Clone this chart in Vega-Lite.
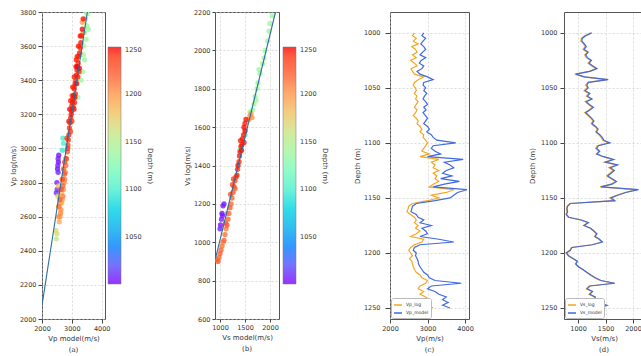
{
"$schema": "https://vega.github.io/schema/vega-lite/v6.json",
"padding": {"left": 8, "top": 8, "right": 0, "bottom": 0},
"background": "white",
"bounds": "flush",
"spacing": 0,
"config": {
  "font": "DejaVu Sans",
  "numberFormat": "d",
  "view": {"stroke": "#555", "strokeWidth": 1},
  "axis": {"labelFont": "DejaVu Sans", "titleFont": "DejaVu Sans", "labelFontSize": 6.5, "titleFontSize": 7, "titleFontWeight": "normal", "labelColor": "#333", "titleColor": "#333", "tickColor": "#444", "tickSize": 4, "labelPadding": 2, "titlePadding": 3, "domain": false, "grid": true, "gridColor": "#c4c4c4", "gridDash": [2, 2], "gridWidth": 0.6, "labelOverlap": false, "labelFlush": false, "format": "d"},
  "legend": {"labelFont": "DejaVu Sans", "titleFont": "DejaVu Sans"},
  "title": {"font": "DejaVu Serif", "fontSize": 7, "fontWeight": "normal", "color": "#333", "orient": "bottom", "offset": 4}
},
"datasets": {
  "scatA": [
    {"vp_model":2560,"vp_log":2960,"depth":1002},{"vp_model":2540,"vp_log":2940,"depth":1003},{"vp_model":2550,"vp_log":2920,"depth":1001},{"vp_model":2530,"vp_log":2900,"depth":1004},{"vp_model":2520,"vp_log":2880,"depth":1002},{"vp_model":2540,"vp_log":2860,"depth":1005},{"vp_model":2500,"vp_log":2800,"depth":1003},{"vp_model":2510,"vp_log":2760,"depth":1008},{"vp_model":2480,"vp_log":2740,"depth":1006},
    {"vp_model":2700,"vp_log":3060,"depth":1095},{"vp_model":2720,"vp_log":3030,"depth":1100},{"vp_model":2680,"vp_log":2990,"depth":1092},
    {"vp_model":3480,"vp_log":3800,"depth":1140},{"vp_model":3520,"vp_log":3790,"depth":1138},{"vp_model":3460,"vp_log":3760,"depth":1142},{"vp_model":3550,"vp_log":3700,"depth":1135},{"vp_model":3500,"vp_log":3720,"depth":1140},{"vp_model":3430,"vp_log":3680,"depth":1137},{"vp_model":3480,"vp_log":3640,"depth":1141},{"vp_model":3400,"vp_log":3600,"depth":1139},{"vp_model":3380,"vp_log":3550,"depth":1143},{"vp_model":3420,"vp_log":3520,"depth":1136},{"vp_model":3350,"vp_log":3450,"depth":1140},{"vp_model":3300,"vp_log":3400,"depth":1138},{"vp_model":3200,"vp_log":3300,"depth":1134},
    {"vp_model":2480,"vp_log":2470,"depth":1160},{"vp_model":2500,"vp_log":2500,"depth":1165},{"vp_model":2460,"vp_log":2520,"depth":1170},{"vp_model":2530,"vp_log":2720,"depth":1175},{"vp_model":2550,"vp_log":2780,"depth":1180},
    {"vp_model":2850,"vp_log":2980,"depth":1225},{"vp_model":2820,"vp_log":2940,"depth":1220},{"vp_model":2800,"vp_log":2900,"depth":1215},{"vp_model":2780,"vp_log":2860,"depth":1212},{"vp_model":2760,"vp_log":2820,"depth":1208},{"vp_model":2740,"vp_log":2800,"depth":1205},{"vp_model":2720,"vp_log":2760,"depth":1200},{"vp_model":2700,"vp_log":2720,"depth":1210},{"vp_model":2680,"vp_log":2700,"depth":1195},{"vp_model":2660,"vp_log":2680,"depth":1190},{"vp_model":2640,"vp_log":2640,"depth":1198},{"vp_model":2620,"vp_log":2620,"depth":1205},{"vp_model":2600,"vp_log":2600,"depth":1200},{"vp_model":2580,"vp_log":2570,"depth":1192},{"vp_model":2560,"vp_log":2600,"depth":1202},{"vp_model":2700,"vp_log":2780,"depth":1218},{"vp_model":2650,"vp_log":2740,"depth":1185},{"vp_model":2620,"vp_log":2680,"depth":1195},{"vp_model":2600,"vp_log":2650,"depth":1188},{"vp_model":2750,"vp_log":2850,"depth":1228},{"vp_model":2800,"vp_log":2940,"depth":1232},{"vp_model":3350,"vp_log":3740,"depth":1195},{"vp_model":3380,"vp_log":3680,"depth":1200},
    {"vp_model":2560,"vp_log":2660,"depth":1212},{"vp_model":2600,"vp_log":2700,"depth":1222},{"vp_model":2640,"vp_log":2760,"depth":1226},{"vp_model":2680,"vp_log":2820,"depth":1230},{"vp_model":2720,"vp_log":2880,"depth":1224},{"vp_model":2760,"vp_log":2920,"depth":1233},
    {"vp_model":3380,"vp_log":3760,"depth":1248},{"vp_model":3350,"vp_log":3700,"depth":1249},{"vp_model":3320,"vp_log":3660,"depth":1247},{"vp_model":3300,"vp_log":3620,"depth":1246},{"vp_model":3280,"vp_log":3590,"depth":1245},{"vp_model":3260,"vp_log":3560,"depth":1248},{"vp_model":3230,"vp_log":3540,"depth":1244},{"vp_model":3210,"vp_log":3500,"depth":1243},{"vp_model":3190,"vp_log":3480,"depth":1249},{"vp_model":3170,"vp_log":3460,"depth":1245},{"vp_model":3150,"vp_log":3430,"depth":1247},{"vp_model":3200,"vp_log":3420,"depth":1246},{"vp_model":3130,"vp_log":3400,"depth":1242},{"vp_model":3110,"vp_log":3380,"depth":1248},{"vp_model":3080,"vp_log":3350,"depth":1244},{"vp_model":3120,"vp_log":3320,"depth":1241},{"vp_model":3060,"vp_log":3310,"depth":1249},{"vp_model":3040,"vp_log":3290,"depth":1245},{"vp_model":3020,"vp_log":3270,"depth":1247},{"vp_model":3000,"vp_log":3250,"depth":1243},{"vp_model":3050,"vp_log":3240,"depth":1240},{"vp_model":2990,"vp_log":3220,"depth":1246},{"vp_model":2980,"vp_log":3200,"depth":1248},{"vp_model":2960,"vp_log":3180,"depth":1242},{"vp_model":3000,"vp_log":3160,"depth":1238},{"vp_model":2940,"vp_log":3150,"depth":1245},{"vp_model":2920,"vp_log":3120,"depth":1240},{"vp_model":2950,"vp_log":3100,"depth":1236},{"vp_model":2900,"vp_log":3080,"depth":1243},{"vp_model":2880,"vp_log":3050,"depth":1239},{"vp_model":2870,"vp_log":3020,"depth":1235},{"vp_model":2860,"vp_log":3000,"depth":1241},{"vp_model":3250,"vp_log":3470,"depth":1250},{"vp_model":3150,"vp_log":3520,"depth":1247},{"vp_model":3100,"vp_log":3300,"depth":1249},{"vp_model":3080,"vp_log":3420,"depth":1246},
    {"vp_model":3070,"vp_log":3230,"depth":1247},{"vp_model":3090,"vp_log":3270,"depth":1244},{"vp_model":2930,"vp_log":3230,"depth":1249},{"vp_model":2960,"vp_log":3280,"depth":1246},{"vp_model":3030,"vp_log":3360,"depth":1248},{"vp_model":3010,"vp_log":3310,"depth":1242},{"vp_model":3140,"vp_log":3480,"depth":1250},{"vp_model":3180,"vp_log":3540,"depth":1245},{"vp_model":3220,"vp_log":3600,"depth":1248},{"vp_model":3240,"vp_log":3450,"depth":1243},{"vp_model":2900,"vp_log":3160,"depth":1247},{"vp_model":2840,"vp_log":3060,"depth":1240},{"vp_model":3160,"vp_log":3380,"depth":1249},{"vp_model":3280,"vp_log":3660,"depth":1246}
  ],
  "lineA": [{"vp_model":2000,"vp_log":2080},{"vp_model":3520,"vp_log":3800}],
  "scatB": [
    {"vs_model":1080,"vs_log":1200,"depth":1002},{"vs_model":1060,"vs_log":1190,"depth":1003},{"vs_model":1040,"vs_log":1150,"depth":1001},{"vs_model":1030,"vs_log":1120,"depth":1004},{"vs_model":1010,"vs_log":1090,"depth":1002},{"vs_model":1000,"vs_log":1070,"depth":1005},{"vs_model":1050,"vs_log":1140,"depth":1003},
    {"vs_model":1500,"vs_log":1560,"depth":1100},{"vs_model":1400,"vs_log":1480,"depth":1095},
    {"vs_model":2050,"vs_log":2180,"depth":1140},{"vs_model":2000,"vs_log":2140,"depth":1138},{"vs_model":1980,"vs_log":2100,"depth":1142},{"vs_model":1950,"vs_log":2050,"depth":1141},{"vs_model":1900,"vs_log":2000,"depth":1139},{"vs_model":1880,"vs_log":1960,"depth":1137},{"vs_model":1850,"vs_log":1930,"depth":1143},{"vs_model":1800,"vs_log":1880,"depth":1140},{"vs_model":1760,"vs_log":1830,"depth":1136},{"vs_model":1740,"vs_log":1800,"depth":1141},{"vs_model":1700,"vs_log":1760,"depth":1138},{"vs_model":1680,"vs_log":1720,"depth":1140},{"vs_model":1650,"vs_log":1690,"depth":1135},{"vs_model":1600,"vs_log":1680,"depth":1144},{"vs_model":1780,"vs_log":1900,"depth":1139},{"vs_model":1720,"vs_log":1740,"depth":1142},
    {"vs_model":1600,"vs_log":1660,"depth":1200},{"vs_model":1620,"vs_log":1670,"depth":1198},{"vs_model":1640,"vs_log":1650,"depth":1202},{"vs_model":1580,"vs_log":1640,"depth":1195},
    {"vs_model":1300,"vs_log":1320,"depth":1230},{"vs_model":1280,"vs_log":1290,"depth":1226},{"vs_model":1260,"vs_log":1260,"depth":1222},{"vs_model":1240,"vs_log":1230,"depth":1218},{"vs_model":1220,"vs_log":1200,"depth":1215},{"vs_model":1200,"vs_log":1180,"depth":1222},{"vs_model":1180,"vs_log":1150,"depth":1212},{"vs_model":1160,"vs_log":1120,"depth":1218},{"vs_model":1140,"vs_log":1090,"depth":1225},{"vs_model":1120,"vs_log":1070,"depth":1210},{"vs_model":1100,"vs_log":1040,"depth":1215},{"vs_model":1080,"vs_log":1010,"depth":1220},{"vs_model":1060,"vs_log":1000,"depth":1208},{"vs_model":1040,"vs_log":980,"depth":1212},{"vs_model":1020,"vs_log":960,"depth":1218},{"vs_model":1000,"vs_log":940,"depth":1222},{"vs_model":980,"vs_log":920,"depth":1215},{"vs_model":960,"vs_log":900,"depth":1225},{"vs_model":940,"vs_log":910,"depth":1212},{"vs_model":1300,"vs_log":1280,"depth":1220},{"vs_model":1250,"vs_log":1300,"depth":1232},{"vs_model":1150,"vs_log":1150,"depth":1210},{"vs_model":1210,"vs_log":1250,"depth":1228},{"vs_model":1270,"vs_log":1330,"depth":1234},{"vs_model":1110,"vs_log":1100,"depth":1224},
    {"vs_model":1520,"vs_log":1640,"depth":1248},{"vs_model":1500,"vs_log":1620,"depth":1246},{"vs_model":1480,"vs_log":1600,"depth":1249},{"vs_model":1470,"vs_log":1560,"depth":1245},{"vs_model":1450,"vs_log":1540,"depth":1247},{"vs_model":1440,"vs_log":1510,"depth":1243},{"vs_model":1420,"vs_log":1500,"depth":1248},{"vs_model":1400,"vs_log":1470,"depth":1244},{"vs_model":1390,"vs_log":1450,"depth":1246},{"vs_model":1380,"vs_log":1420,"depth":1242},{"vs_model":1360,"vs_log":1400,"depth":1249},{"vs_model":1350,"vs_log":1380,"depth":1241},{"vs_model":1340,"vs_log":1350,"depth":1245},{"vs_model":1320,"vs_log":1340,"depth":1240},{"vs_model":1480,"vs_log":1520,"depth":1247},{"vs_model":1500,"vs_log":1580,"depth":1250},{"vs_model":1430,"vs_log":1480,"depth":1249},{"vs_model":1410,"vs_log":1530,"depth":1246}
  ],
  "lineB": [{"vs_model":905,"vs_log":910},{"vs_model":2110,"vs_log":2200}],
  "logs": [
    {"depth":1000,"Vp_log":2650,"Vp_model":2900,"Vs_log":1230,"Vs_model":1250},
    {"depth":1002.5,"Vp_log":2600,"Vp_model":2850,"Vs_log":1120,"Vs_model":1140},
    {"depth":1005,"Vp_log":2700,"Vp_model":2950,"Vs_log":1060,"Vs_model":1075},
    {"depth":1007.5,"Vp_log":2620,"Vp_model":2880,"Vs_log":1050,"Vs_model":1070},
    {"depth":1010,"Vp_log":2750,"Vp_model":2820,"Vs_log":1100,"Vs_model":1115},
    {"depth":1012.5,"Vp_log":2580,"Vp_model":2900,"Vs_log":1130,"Vs_model":1150},
    {"depth":1015,"Vp_log":2680,"Vp_model":2950,"Vs_log":1090,"Vs_model":1110},
    {"depth":1017.5,"Vp_log":2720,"Vp_model":2870,"Vs_log":1170,"Vs_model":1185},
    {"depth":1020,"Vp_log":2600,"Vp_model":2800,"Vs_log":1120,"Vs_model":1140},
    {"depth":1022.5,"Vp_log":2700,"Vp_model":2950,"Vs_log":1150,"Vs_model":1170},
    {"depth":1025,"Vp_log":2550,"Vp_model":2830,"Vs_log":1230,"Vs_model":1245},
    {"depth":1027.5,"Vp_log":2650,"Vp_model":2780,"Vs_log":1180,"Vs_model":1200},
    {"depth":1030,"Vp_log":2720,"Vp_model":2900,"Vs_log":1250,"Vs_model":1270},
    {"depth":1032.5,"Vp_log":2560,"Vp_model":2850,"Vs_log":1330,"Vs_model":1345},
    {"depth":1035,"Vp_log":2600,"Vp_model":2720,"Vs_log":1200,"Vs_model":1215},
    {"depth":1037.5,"Vp_log":2650,"Vp_model":2800,"Vs_log":940,"Vs_model":960},
    {"depth":1040,"Vp_log":2900,"Vp_model":3000,"Vs_log":1100,"Vs_model":1120},
    {"depth":1042.5,"Vp_log":2750,"Vp_model":3150,"Vs_log":1520,"Vs_model":1550},
    {"depth":1045,"Vp_log":2650,"Vp_model":2900,"Vs_log":1180,"Vs_model":1190},
    {"depth":1047.5,"Vp_log":2620,"Vp_model":2880,"Vs_log":1140,"Vs_model":1160},
    {"depth":1050,"Vp_log":2680,"Vp_model":2950,"Vs_log":1170,"Vs_model":1185},
    {"depth":1052.5,"Vp_log":2700,"Vp_model":2900,"Vs_log":1110,"Vs_model":1130},
    {"depth":1055,"Vp_log":2650,"Vp_model":2980,"Vs_log":1200,"Vs_model":1215},
    {"depth":1057.5,"Vp_log":2720,"Vp_model":2920,"Vs_log":1150,"Vs_model":1170},
    {"depth":1060,"Vp_log":2680,"Vp_model":2880,"Vs_log":1240,"Vs_model":1255},
    {"depth":1062.5,"Vp_log":2750,"Vp_model":2950,"Vs_log":1130,"Vs_model":1150},
    {"depth":1065,"Vp_log":2700,"Vp_model":3000,"Vs_log":1190,"Vs_model":1205},
    {"depth":1067.5,"Vp_log":2650,"Vp_model":2900,"Vs_log":1260,"Vs_model":1280},
    {"depth":1070,"Vp_log":2720,"Vp_model":2960,"Vs_log":1200,"Vs_model":1215},
    {"depth":1072.5,"Vp_log":2680,"Vp_model":2880,"Vs_log":1120,"Vs_model":1140},
    {"depth":1075,"Vp_log":2620,"Vp_model":2940,"Vs_log":1180,"Vs_model":1195},
    {"depth":1077.5,"Vp_log":2700,"Vp_model":3000,"Vs_log":1230,"Vs_model":1245},
    {"depth":1080,"Vp_log":2750,"Vp_model":2950,"Vs_log":1270,"Vs_model":1290},
    {"depth":1082.5,"Vp_log":2720,"Vp_model":2900,"Vs_log":1240,"Vs_model":1255},
    {"depth":1085,"Vp_log":2800,"Vp_model":3000,"Vs_log":1300,"Vs_model":1320},
    {"depth":1087.5,"Vp_log":2850,"Vp_model":3050,"Vs_log":1350,"Vs_model":1365},
    {"depth":1090,"Vp_log":2800,"Vp_model":2980,"Vs_log":1320,"Vs_model":1335},
    {"depth":1092.5,"Vp_log":2900,"Vp_model":3100,"Vs_log":1380,"Vs_model":1395},
    {"depth":1095,"Vp_log":2880,"Vp_model":3150,"Vs_log":1420,"Vs_model":1440},
    {"depth":1097.5,"Vp_log":2950,"Vp_model":3250,"Vs_log":1450,"Vs_model":1470},
    {"depth":1100,"Vp_log":3000,"Vp_model":3750,"Vs_log":1560,"Vs_model":1580},
    {"depth":1102.5,"Vp_log":2950,"Vp_model":3150,"Vs_log":1350,"Vs_model":1370},
    {"depth":1105,"Vp_log":2900,"Vp_model":3100,"Vs_log":1320,"Vs_model":1340},
    {"depth":1107.5,"Vp_log":2850,"Vp_model":3200,"Vs_log":1380,"Vs_model":1395},
    {"depth":1110,"Vp_log":3050,"Vp_model":3350,"Vs_log":1330,"Vs_model":1345},
    {"depth":1112.5,"Vp_log":2800,"Vp_model":3000,"Vs_log":1450,"Vs_model":1470},
    {"depth":1115,"Vp_log":3300,"Vp_model":3950,"Vs_log":1620,"Vs_model":1650},
    {"depth":1117.5,"Vp_log":3100,"Vp_model":3450,"Vs_log":1480,"Vs_model":1500},
    {"depth":1120,"Vp_log":3200,"Vp_model":3600,"Vs_log":1700,"Vs_model":1720},
    {"depth":1122.5,"Vp_log":3150,"Vp_model":3700,"Vs_log":1560,"Vs_model":1590},
    {"depth":1125,"Vp_log":3300,"Vp_model":3500,"Vs_log":1640,"Vs_model":1660},
    {"depth":1127.5,"Vp_log":3150,"Vp_model":3400,"Vs_log":1580,"Vs_model":1600},
    {"depth":1130,"Vp_log":3250,"Vp_model":3650,"Vs_log":1520,"Vs_model":1540},
    {"depth":1132.5,"Vp_log":3200,"Vp_model":3350,"Vs_log":1600,"Vs_model":1620},
    {"depth":1135,"Vp_log":3300,"Vp_model":3850,"Vs_log":1680,"Vs_model":1700},
    {"depth":1137.5,"Vp_log":3150,"Vp_model":3450,"Vs_log":1600,"Vs_model":1620},
    {"depth":1140,"Vp_log":3050,"Vp_model":3150,"Vs_log":1400,"Vs_model":1420},
    {"depth":1142.5,"Vp_log":3700,"Vp_model":4050,"Vs_log":2050,"Vs_model":2100},
    {"depth":1145,"Vp_log":3500,"Vp_model":3800,"Vs_log":1850,"Vs_model":1870},
    {"depth":1147.5,"Vp_log":3100,"Vp_model":3700,"Vs_log":1700,"Vs_model":1720},
    {"depth":1150,"Vp_log":3300,"Vp_model":3600,"Vs_log":1580,"Vs_model":1600},
    {"depth":1152.5,"Vp_log":3000,"Vp_model":3200,"Vs_log":1650,"Vs_model":1670},
    {"depth":1155,"Vp_log":2600,"Vp_model":2700,"Vs_log":850,"Vs_model":860},
    {"depth":1157.5,"Vp_log":2500,"Vp_model":2600,"Vs_log":800,"Vs_model":810},
    {"depth":1160,"Vp_log":2480,"Vp_model":2580,"Vs_log":790,"Vs_model":800},
    {"depth":1162.5,"Vp_log":2450,"Vp_model":2560,"Vs_log":800,"Vs_model":810},
    {"depth":1165,"Vp_log":2550,"Vp_model":2700,"Vs_log":780,"Vs_model":790},
    {"depth":1167.5,"Vp_log":2650,"Vp_model":2750,"Vs_log":820,"Vs_model":830},
    {"depth":1170,"Vp_log":2700,"Vp_model":2900,"Vs_log":1050,"Vs_model":1060},
    {"depth":1172.5,"Vp_log":2650,"Vp_model":2800,"Vs_log":1180,"Vs_model":1190},
    {"depth":1175,"Vp_log":2750,"Vp_model":3100,"Vs_log":1100,"Vs_model":1110},
    {"depth":1177.5,"Vp_log":2680,"Vp_model":2850,"Vs_log":1220,"Vs_model":1230},
    {"depth":1180,"Vp_log":2800,"Vp_model":2950,"Vs_log":1280,"Vs_model":1290},
    {"depth":1182.5,"Vp_log":2700,"Vp_model":3000,"Vs_log":1330,"Vs_model":1345},
    {"depth":1185,"Vp_log":2550,"Vp_model":2800,"Vs_log":1300,"Vs_model":1310},
    {"depth":1187.5,"Vp_log":2900,"Vp_model":3300,"Vs_log":1380,"Vs_model":1390},
    {"depth":1190,"Vp_log":2850,"Vp_model":3700,"Vs_log":1430,"Vs_model":1445},
    {"depth":1192.5,"Vp_log":2650,"Vp_model":2800,"Vs_log":1250,"Vs_model":1260},
    {"depth":1195,"Vp_log":2550,"Vp_model":2650,"Vs_log":880,"Vs_model":890},
    {"depth":1197.5,"Vp_log":2500,"Vp_model":2620,"Vs_log":850,"Vs_model":860},
    {"depth":1200,"Vp_log":2550,"Vp_model":2700,"Vs_log":780,"Vs_model":790},
    {"depth":1202.5,"Vp_log":2600,"Vp_model":2680,"Vs_log":820,"Vs_model":830},
    {"depth":1205,"Vp_log":2520,"Vp_model":2720,"Vs_log":900,"Vs_model":910},
    {"depth":1207.5,"Vp_log":2580,"Vp_model":2750,"Vs_log":980,"Vs_model":990},
    {"depth":1210,"Vp_log":2600,"Vp_model":2760,"Vs_log":950,"Vs_model":960},
    {"depth":1212.5,"Vp_log":2620,"Vp_model":2800,"Vs_log":1000,"Vs_model":1010},
    {"depth":1215,"Vp_log":2650,"Vp_model":2850,"Vs_log":1080,"Vs_model":1090},
    {"depth":1217.5,"Vp_log":2700,"Vp_model":2900,"Vs_log":1150,"Vs_model":1160},
    {"depth":1220,"Vp_log":2800,"Vp_model":3000,"Vs_log":1220,"Vs_model":1235},
    {"depth":1222.5,"Vp_log":2850,"Vp_model":3050,"Vs_log":1300,"Vs_model":1315},
    {"depth":1225,"Vp_log":3000,"Vp_model":3200,"Vs_log":1400,"Vs_model":1420},
    {"depth":1227.5,"Vp_log":2950,"Vp_model":3900,"Vs_log":1650,"Vs_model":1670},
    {"depth":1230,"Vp_log":2800,"Vp_model":3100,"Vs_log":1200,"Vs_model":1215},
    {"depth":1232.5,"Vp_log":2750,"Vp_model":3000,"Vs_log":1150,"Vs_model":1165},
    {"depth":1235,"Vp_log":2900,"Vp_model":3200,"Vs_log":1250,"Vs_model":1265},
    {"depth":1237.5,"Vp_log":2800,"Vp_model":3300,"Vs_log":1200,"Vs_model":1215},
    {"depth":1240,"Vp_log":2950,"Vp_model":3500,"Vs_log":1300,"Vs_model":1315},
    {"depth":1242.5,"Vp_log":3050,"Vp_model":3400,"Vs_log":1280,"Vs_model":1295},
    {"depth":1245,"Vp_log":3100,"Vp_model":3550,"Vs_log":1350,"Vs_model":1365},
    {"depth":1247.5,"Vp_log":3000,"Vp_model":3400,"Vs_log":1500,"Vs_model":1530},
    {"depth":1250,"Vp_log":3150,"Vp_model":3600,"Vs_log":1380,"Vs_model":1400}
  ]
},
"hconcat": [
  {
    "width": 63, "height": 307,
    "title": {"text": "(a)"},
    "encoding": {
      "x": {"field": "vp_model", "type": "quantitative", "scale": {"domain": [2000, 4110], "nice": false, "zero": false}, "axis": {"values": [2000, 3000, 4000], "title": "Vp model(m/s)", "labelOverlap": false, "labelFlush": false}},
      "y": {"field": "vp_log", "type": "quantitative", "scale": {"domain": [2000, 3800], "nice": false, "zero": false}, "axis": {"values": [2000, 2200, 2400, 2600, 2800, 3000, 3200, 3400, 3600, 3800], "title": "Vp log(m/s)", "labelOverlap": false, "labelFlush": false}}
    },
    "layer": [
      {
        "data": {"name": "scatA"},
        "mark": {"type": "circle", "size": 28, "opacity": 0.8, "clip": true},
        "encoding": {
          "order": {"field": "depth", "type": "quantitative"},
          "color": {"field": "depth", "type": "quantitative",
            "scale": {"domain": [1000, 1031.25, 1062.5, 1093.75, 1125, 1156.25, 1187.5, 1218.75, 1250], "range": ["#8000ff", "#4062fa", "#00b4eb", "#40ecd4", "#80ffb4", "#c0ec8e", "#ffb462", "#ff6232", "#ff0000"]},
            "legend": {"orient": "none", "legendX": 66, "legendY": 35, "direction": "vertical", "gradientLength": 237, "gradientThickness": 13, "values": [1050, 1100, 1150, 1200, 1250], "format": "d", "labelOverlap": false, "labelFontSize": 6.5, "labelColor": "#333", "title": "Depth (m)", "titleFontSize": 7, "titleFontWeight": "normal", "titleColor": "#333", "titleOrient": "right", "titleAnchor": "middle", "gradientStrokeColor": "#555", "gradientStrokeWidth": 0.5, "labelOffset": 4,
              "encode": {"title": {"update": {"angle": {"value": 270}, "baseline": {"value": "top"}}}}}}
        }
      },
      {
        "data": {"name": "lineA"},
        "mark": {"type": "line", "color": "#2a6f9e", "strokeWidth": 1.1, "clip": true},
        "encoding": {}
      }
    ]
  },
  {"width": 110, "height": 307, "view": {"stroke": null}, "data": {"values": []}, "mark": "point", "encoding": {}},
  {
    "width": 64, "height": 307,
    "title": {"text": "(b)"},
    "encoding": {
      "x": {"field": "vs_model", "type": "quantitative", "scale": {"domain": [900, 2180], "nice": false, "zero": false}, "axis": {"values": [1000, 1500, 2000], "title": "Vs model(m/s)", "tickSize": 3, "labelOverlap": false, "labelFlush": false}},
      "y": {"field": "vs_log", "type": "quantitative", "scale": {"domain": [600, 2200], "nice": false, "zero": false}, "axis": {"values": [600, 800, 1000, 1200, 1400, 1600, 1800, 2000, 2200], "title": "Vs log(m/s)", "tickSize": 3, "labelOverlap": false, "labelFlush": false}}
    },
    "layer": [
      {
        "data": {"name": "scatB"},
        "mark": {"type": "circle", "size": 28, "opacity": 0.8, "clip": true},
        "encoding": {
          "order": {"field": "depth", "type": "quantitative"},
          "color": {"field": "depth", "type": "quantitative",
            "scale": {"domain": [1000, 1031.25, 1062.5, 1093.75, 1125, 1156.25, 1187.5, 1218.75, 1250], "range": ["#8000ff", "#4062fa", "#00b4eb", "#40ecd4", "#80ffb4", "#c0ec8e", "#ffb462", "#ff6232", "#ff0000"]},
            "legend": {"orient": "none", "legendX": 68, "legendY": 35, "direction": "vertical", "gradientLength": 237, "gradientThickness": 13, "values": [1050, 1100, 1150, 1200, 1250], "format": "d", "labelOverlap": false, "labelFontSize": 6.5, "labelColor": "#333", "title": "Depth (m)", "titleFontSize": 7, "titleFontWeight": "normal", "titleColor": "#333", "titleOrient": "right", "titleAnchor": "middle", "gradientStrokeColor": "#555", "gradientStrokeWidth": 0.5, "labelOffset": 4,
              "encode": {"title": {"update": {"angle": {"value": 270}, "baseline": {"value": "top"}}}}}}
        }
      },
      {
        "data": {"name": "lineB"},
        "mark": {"type": "line", "color": "#2a6f9e", "strokeWidth": 1.1, "clip": true},
        "encoding": {}
      }
    ]
  },
  {"width": 111, "height": 307, "view": {"stroke": null}, "data": {"values": []}, "mark": "point", "encoding": {}},
  {
    "width": 79, "height": 307,
    "title": {"text": "(c)"},
    "data": {"name": "logs"},
    "transform": [{"fold": ["Vp_log", "Vp_model"], "as": ["series", "v"]}],
    "mark": {"type": "line", "strokeWidth": 1.2, "clip": true},
    "encoding": {
      "x": {"field": "v", "type": "quantitative", "scale": {"domain": [2000, 4105], "nice": false, "zero": false}, "axis": {"values": [2000, 3000, 4000], "title": "Vp(m/s)", "labelOverlap": false, "labelFlush": false}},
      "y": {"field": "depth", "type": "quantitative", "scale": {"domain": [981, 1260], "reverse": true, "nice": false, "zero": false}, "axis": {"values": [1000, 1050, 1100, 1150, 1200, 1250], "title": "Depth (m)", "tickSize": 5, "labelPadding": 5, "labelOverlap": false, "labelFlush": false}},
      "order": {"field": "depth", "type": "quantitative"},
      "color": {"field": "series", "type": "nominal", "scale": {"domain": ["Vp_log", "Vp_model"], "range": ["#f5a623", "#4169e1"]},
        "legend": {"orient": "bottom-left", "offset": 1, "title": null, "labelFontSize": 4.5, "labelColor": "#333", "symbolType": "stroke", "symbolSize": 64, "symbolStrokeWidth": 1.5, "padding": 2, "rowPadding": 0, "labelOffset": 3, "strokeColor": "#bbb", "fillColor": "white", "cornerRadius": 2}}
    }
  },
  {"width": 95, "height": 307, "view": {"stroke": null}, "data": {"values": []}, "mark": "point", "encoding": {}},
  {
    "width": 80, "height": 307,
    "title": {"text": "(d)"},
    "data": {"name": "logs"},
    "transform": [{"fold": ["Vs_log", "Vs_model"], "as": ["series", "v"]}],
    "mark": {"type": "line", "strokeWidth": 1.2, "clip": true},
    "encoding": {
      "x": {"field": "v", "type": "quantitative", "scale": {"domain": [745, 2200], "nice": false, "zero": false}, "axis": {"values": [1000, 1500, 2000], "title": "Vs(m/s)", "labelOverlap": false, "labelFlush": false}},
      "y": {"field": "depth", "type": "quantitative", "scale": {"domain": [981, 1260], "reverse": true, "nice": false, "zero": false}, "axis": {"values": [1000, 1050, 1100, 1150, 1200, 1250], "title": "Depth (m)", "tickSize": 4, "labelPadding": 3, "titlePadding": 5, "labelOverlap": false, "labelFlush": false}},
      "order": {"field": "depth", "type": "quantitative"},
      "color": {"field": "series", "type": "nominal", "scale": {"domain": ["Vs_log", "Vs_model"], "range": ["#f5a623", "#4169e1"]},
        "legend": {"orient": "bottom-left", "offset": 1, "title": null, "labelFontSize": 4.5, "labelColor": "#333", "symbolType": "stroke", "symbolSize": 64, "symbolStrokeWidth": 1.5, "padding": 2, "rowPadding": 0, "labelOffset": 3, "strokeColor": "#bbb", "fillColor": "white", "cornerRadius": 2}}
    }
  }
],
"resolve": {"scale": {"color": "independent", "x": "independent", "y": "independent"}, "legend": {"color": "independent"}}
}
